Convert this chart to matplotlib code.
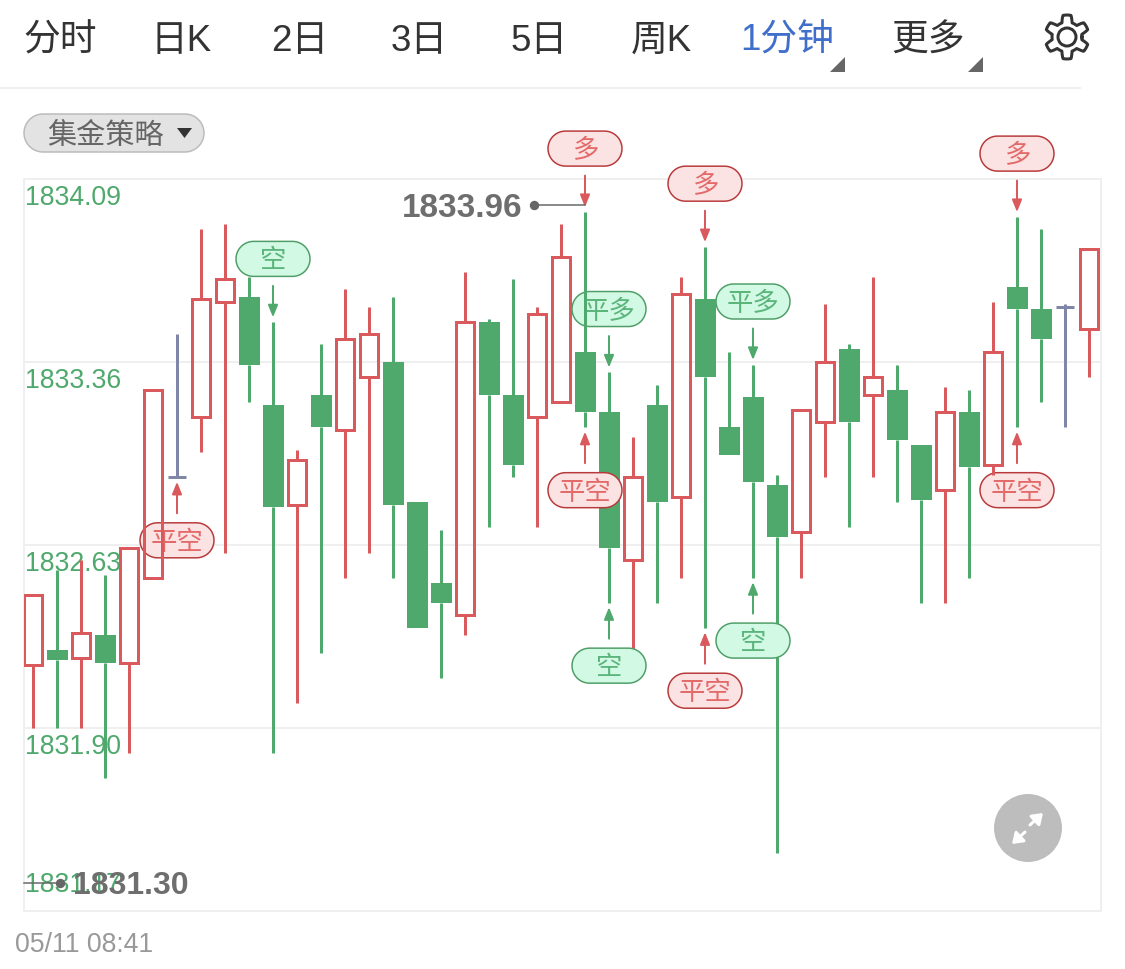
# %% imports
import numpy as np
import matplotlib
matplotlib.use("Agg")
import matplotlib.pyplot as plt
from matplotlib.patches import Polygon, Circle

# %% data
opens = [1832.15, 1832.21, 1832.18, 1832.27, 1832.16, 1832.50, 1832.90, 1833.14, 1833.60, 1833.62, 1833.19,
         1832.79, 1833.23, 1833.09, 1833.30, 1833.36, 1832.80, 1832.48, 1832.35, 1833.52, 1833.23, 1833.14,
         1833.20, 1833.40, 1833.16, 1832.57, 1833.19, 1832.82, 1833.61, 1833.10, 1833.22, 1832.87, 1832.68,
         1833.12, 1833.41, 1833.23, 1833.25, 1833.03, 1832.85, 1833.16, 1832.95, 1833.66, 1833.57, 1833.58,
         1833.49]
closes = [1832.43, 1832.17, 1832.28, 1832.16, 1832.62, 1833.25, 1832.90, 1833.61, 1833.69, 1833.35, 1832.78,
          1832.97, 1833.10, 1833.45, 1833.47, 1832.79, 1832.30, 1832.40, 1833.52, 1833.23, 1832.95, 1833.55,
          1833.78, 1833.16, 1832.62, 1832.90, 1832.80, 1833.63, 1833.30, 1832.99, 1832.88, 1832.66, 1833.17,
          1833.36, 1833.12, 1833.30, 1833.05, 1832.81, 1833.16, 1832.94, 1833.40, 1833.57, 1833.45, 1833.58,
          1833.81]
highs = [1832.43, 1832.53, 1832.57, 1832.51, 1832.62, 1833.25, 1833.47, 1833.89, 1833.91, 1833.70, 1833.52,
         1833.01, 1833.43, 1833.65, 1833.58, 1833.62, 1832.80, 1832.69, 1833.72, 1833.53, 1833.69, 1833.58,
         1833.91, 1833.96, 1833.32, 1833.06, 1833.27, 1833.70, 1833.82, 1833.40, 1833.35, 1832.91, 1833.17,
         1833.59, 1833.43, 1833.70, 1833.35, 1833.03, 1833.26, 1833.25, 1833.60, 1833.94, 1833.89, 1833.59,
         1833.81]
lows = [1831.90, 1831.90, 1831.90, 1831.70, 1831.80, 1832.50, 1832.90, 1833.00, 1832.60, 1833.20, 1831.80,
        1832.00, 1832.20, 1832.50, 1832.60, 1832.50, 1832.30, 1832.10, 1832.27, 1832.70, 1832.90, 1832.70,
        1833.20, 1833.10, 1832.40, 1832.21, 1832.40, 1832.50, 1832.30, 1832.99, 1832.50, 1831.40, 1832.50,
        1832.90, 1832.70, 1832.90, 1832.80, 1832.40, 1832.40, 1832.50, 1832.91, 1833.10, 1833.20, 1833.10,
        1833.30]

y_ticks = [1834.09, 1833.36, 1832.63, 1831.90, 1831.17]
max_price = 1833.96
min_price = 1831.30
date_label = "05/11 08:41"

# signals above the high of a candle / below the low of a candle
sig_idx = [6, 10, 23, 24, 23, 24, 28, 30, 28, 30, 41, 41]
sig_text = ["平空", "空", "多", "平多", "平空", "空", "多", "平多", "平空", "空", "多", "平空"]
sig_above = [False, True, True, True, False, False, True, True, False, False, True, False]

tabs = ["分时", "日K", "2日", "3日", "5日", "周K", "1分钟", "更多"]
tab_x = [60, 181, 300, 419, 539, 661, 787, 928]

# %% colours
cRed = "#D9595C"
cGreen = "#4FA96D"
cDoji = "#7F86A8"
cGrid = "#EFEFEF"
cGray = "#666666"
CJK = ["Noto Sans CJK SC", "DejaVu Sans"]
NUM = ["Liberation Sans", "DejaVu Sans"]
TAB = ["Liberation Sans", "Noto Sans CJK SC"]

W, H = 1125, 969
fig = plt.figure(figsize=(W / 100, H / 100), dpi=100, facecolor="white")
px = 0.72  # one pixel in points

# %% axes: prices, and an overlay in picture pixels
L, R, T, B = 24, 1101, 179, 911
ax = fig.add_axes([L / W, 1 - B / H, (R - L) / W, (B - T) / H], facecolor="none")
ax.set_xlim((L - 33) / 24, (R - 33) / 24)
ax.set_ylim(y_ticks[-1], y_ticks[0])
ax.set_xticks([])
ax.set_yticks([])
for s in ax.spines.values():
    s.set_color(cGrid)
    s.set_linewidth(2 * px)
for v in y_ticks[1:-1]:
    ax.axhline(v, color=cGrid, lw=2 * px, zorder=1)

ov = fig.add_axes([0, 0, 1, 1], facecolor="none")
ov.set_xlim(0, W)
ov.set_ylim(H, 0)
ov.axis("off")


def to_px(x, y):
    a, b = ax.transData.transform((x, y))
    return a, H - b


def pill_pts(cx, cy, w, h):
    r = h / 2
    t = np.linspace(-np.pi / 2, np.pi / 2, 30)
    right = np.c_[cx + w / 2 - r + r * np.cos(t), cy + r * np.sin(t)]
    left = np.c_[cx - w / 2 + r - r * np.cos(t[::-1]), cy + r * np.sin(t[::-1])]
    return np.vstack([right, left])


# %% candles; the later candle lies below the earlier one and its tag
n = len(opens)
for i in range(n):
    z = 10 + (n - i)
    o, c, hi, lo = opens[i], closes[i], highs[i], lows[i]
    top, bot = max(o, c), min(o, c)
    if c == o:
        col = cDoji
    elif c > o:
        col = cRed
    else:
        col = cGreen
    ax.vlines([i, i], [top, bot], [hi, lo], color=col, lw=3 * px, zorder=z)
    if c > o:
        ax.bar(i, top - bot, bottom=bot, width=17.5 / 24, facecolor="none", edgecolor=col,
               linewidth=3 * px, zorder=z)
    elif c < o:
        ax.bar(i, top - bot, bottom=bot, width=21 / 24, color=col, linewidth=0, zorder=z)
    else:
        ax.hlines(o, i - 9 / 24, i + 9 / 24, color=col, lw=3 * px, zorder=z)

for i, v in enumerate(y_ticks):
    dy = 26 if i == len(y_ticks) - 1 else -19
    ax.annotate(f"{v:.2f}", (0, v), xycoords=ax.get_yaxis_transform(), xytext=(1 * px, dy * px),
                textcoords="offset points", color=cGreen, fontsize=19.2, family=NUM, va="center", zorder=5)

# %% signal tags
for i, txt, above in zip(sig_idx, sig_text, sig_above):
    z = 10 + (n - i) + 0.5
    red = txt in ("多", "平空")
    col = cRed if red else cGreen
    face = "#FBE3E3" if red else "#D2F9E4"
    edge = "#B8393A" if red else "#4F9E68"
    x, y = to_px(i, highs[i] if above else lows[i])
    sgn = -1 if above else 1
    ax.annotate("", xy=(x, y + sgn * 4.5), xytext=(x, y + sgn * 36), xycoords=ov.transData,
                textcoords=ov.transData, annotation_clip=False, zorder=z,
                arrowprops=dict(arrowstyle="-|>,head_width=0.29,head_length=0.72", color=col, lw=2 * px,
                                mutation_scale=10, shrinkA=0, shrinkB=0))
    ax.add_patch(Polygon(pill_pts(x, y + sgn * 63, 74, 35), closed=True, facecolor=face, edgecolor=edge,
                         lw=1.5 * px, transform=ov.transData, clip_on=False, zorder=z))
    ax.text(x, y + sgn * 63 + 2, txt, color="#E46A6A" if red else "#5BB57B", fontsize=19, family=CJK,
            ha="center", va="center", transform=ov.transData, clip_on=False, zorder=z + 0.1)

# max / min tags
x, y = to_px(np.argmax(highs), max_price)
ov.plot([534, x], [y - 7, y - 7], color=cGray, lw=1.5 * px, zorder=5)
ov.plot([534], [y - 7], "o", color=cGray, ms=8 * px, zorder=5)
ov.text(522, y - 3, f"{max_price:.2f}", color="#6E6E6E", fontsize=24, family=NUM, weight="bold", ha="right",
        va="center", zorder=5)
x, y = to_px(-0.375, min_price)
ov.plot([24, 60], [y + 5, y + 5], color=cGray, lw=1.5 * px, zorder=6)
ov.plot([60], [y + 5], "o", color=cGray, ms=8 * px, zorder=6)
ov.text(73, y + 8, f"{min_price:.2f}", color="#6E6E6E", fontsize=23, family=NUM, weight="bold", ha="left",
        va="center", zorder=6)

# %% header tabs
for t, x in zip(tabs, tab_x):
    ov.text(x, 41, t, color="#3F6FCB" if t == "1分钟" else "#333333", fontsize=26.5, family=TAB,
            ha="center", va="center")
for x in (845, 983):
    ov.add_patch(Polygon([(x, 57), (x, 72), (x - 15, 72)], closed=True, color="#666666", lw=0))
ov.plot([0, 1080], [88, 88], color=cGrid, lw=2 * px)

# gear
ang = np.linspace(0, 2 * np.pi, 361)
rad = 18.5 + 3.5 * np.clip(2.2 * np.cos(6 * (ang - np.pi / 2)), -1, 1)
ov.plot(1067 + rad * np.cos(ang), 37 + rad * np.sin(ang), color="#333333", lw=3 * px)
ov.add_patch(Circle((1067, 37), 9, facecolor="none", edgecolor="#333333", lw=3 * px))

# strategy button
ov.add_patch(Polygon(pill_pts(114, 133, 180, 38), closed=True, facecolor="#E3E3E3", edgecolor="#BBBBBB",
                     lw=1.5 * px))
ov.text(105, 136, "集金策略", color="#666666", fontsize=21, family=CJK, ha="center", va="center", zorder=7)
ov.add_patch(Polygon([(177, 128), (192, 128), (184.5, 138)], closed=True, color="#333333", lw=0, zorder=7))

# expand button
ov.add_patch(Circle((1028, 828), 34, color="#BDBDBD", lw=0, zorder=8))
for a, b in (((1025, 832), (1012, 844)), ((1030, 825), (1043, 813))):
    ov.annotate("", xy=b, xytext=a, zorder=9,
                arrowprops=dict(arrowstyle="-|>,head_width=0.42,head_length=0.6", color="white", lw=3 * px,
                                mutation_scale=10, shrinkA=0, shrinkB=0))

# footer
ov.text(15, 945, date_label, color="#999999", fontsize=19.2, family=NUM, ha="left", va="center")

fig.savefig("out.png", dpi=100)
